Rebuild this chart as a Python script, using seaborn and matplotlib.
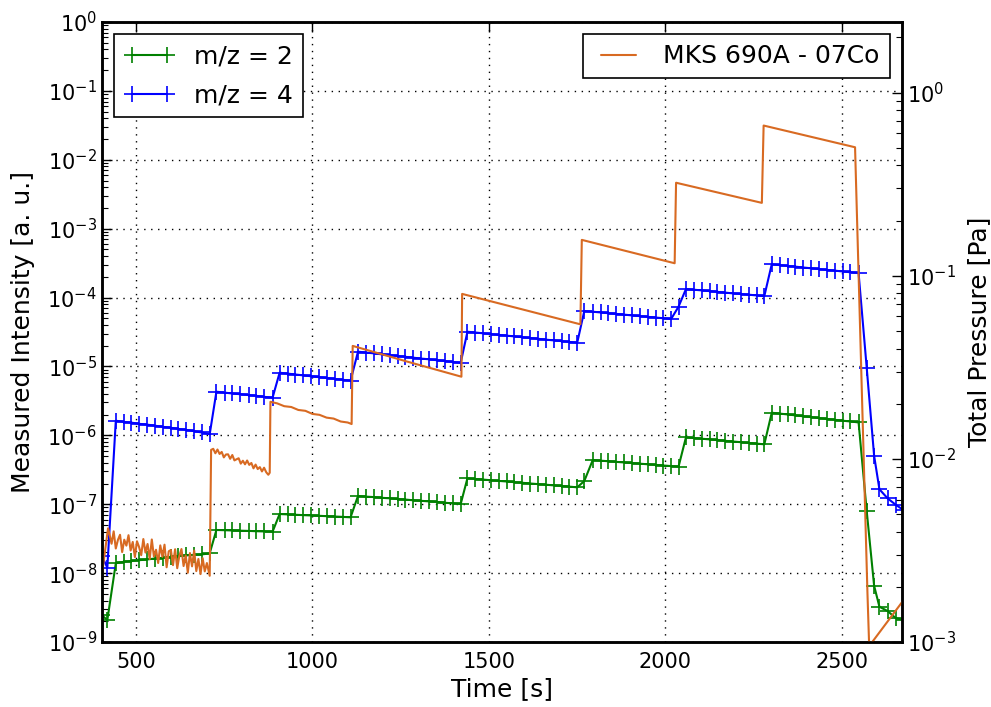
import matplotlib
matplotlib.use("Agg")
import matplotlib.pyplot as plt
import seaborn as sns
import pandas as pd
from matplotlib.ticker import LogLocator, NullFormatter
from matplotlib.lines import Line2D

# ---------------- data ----------------
t_ms = [403, 419, 443, 465, 487, 509, 532, 554, 576, 598, 620, 643, 665, 687, 709,
        728, 751, 773, 796, 819, 841, 864, 887,
        907, 930, 952, 974, 997, 1019, 1041, 1064, 1086, 1108,
        1129, 1151, 1174, 1196, 1219, 1241, 1263, 1286, 1308, 1331, 1353, 1375, 1398, 1420,
        1439, 1461, 1483, 1505, 1528, 1550, 1572, 1594, 1617, 1639, 1661, 1683, 1706, 1728, 1750,
        1770,
        1794, 1816, 1838, 1861, 1883, 1905, 1927, 1950, 1972, 1994, 2016,
        2037,
        2058, 2080, 2103, 2125, 2147, 2169, 2191, 2214, 2236, 2258, 2280,
        2301, 2323, 2346, 2368, 2390, 2413, 2435, 2457, 2480, 2502, 2524, 2547,
        2570, 2591, 2606, 2629, 2653, 2675]

mz4 = [1.8e-8, 1.2e-8,
       1.63e-6, 1.57e-6, 1.53e-6, 1.47e-6, 1.43e-6, 1.38e-6, 1.33e-6, 1.29e-6, 1.24e-6, 1.20e-6, 1.15e-6, 1.10e-6, 1.04e-6,
       4.30e-6, 4.17e-6, 4.05e-6, 3.95e-6, 3.85e-6, 3.74e-6, 3.62e-6, 3.51e-6,
       8.11e-6, 7.87e-6, 7.64e-6, 7.42e-6, 7.20e-6, 6.99e-6, 6.79e-6, 6.59e-6, 6.40e-6, 6.21e-6,
       1.64e-5, 1.59e-5, 1.55e-5, 1.50e-5, 1.46e-5, 1.42e-5, 1.38e-5, 1.34e-5, 1.30e-5, 1.27e-5, 1.23e-5, 1.20e-5, 1.16e-5, 1.13e-5,
       3.19e-5, 3.11e-5, 3.03e-5, 2.95e-5, 2.87e-5, 2.80e-5, 2.73e-5, 2.66e-5, 2.59e-5, 2.52e-5, 2.45e-5, 2.39e-5, 2.33e-5, 2.27e-5, 2.21e-5,
       6.38e-5,
       6.23e-5, 6.08e-5, 5.93e-5, 5.79e-5, 5.65e-5, 5.51e-5, 5.38e-5, 5.25e-5, 5.13e-5, 5.01e-5, 4.89e-5,
       7.37e-5,
       1.33e-4, 1.30e-4, 1.27e-4, 1.24e-4, 1.21e-4, 1.18e-4, 1.15e-4, 1.125e-4, 1.10e-4, 1.075e-4, 1.05e-4,
       3.04e-4, 2.96e-4, 2.88e-4, 2.81e-4, 2.73e-4, 2.66e-4, 2.59e-4, 2.52e-4, 2.46e-4, 2.39e-4, 2.33e-4, 2.27e-4,
       9.6e-6, 5.06e-7, 1.65e-7, 1.22e-7, 9.75e-8, 8.2e-8]

mz2 = [2.47e-9, 2.08e-9,
       1.39e-8, 1.46e-8, 1.50e-8, 1.54e-8, 1.58e-8, 1.63e-8, 1.67e-8, 1.72e-8, 1.76e-8, 1.81e-8, 1.84e-8, 1.87e-8, 1.94e-8,
       4.23e-8, 4.20e-8, 4.16e-8, 4.13e-8, 4.10e-8, 4.06e-8, 4.03e-8, 3.99e-8,
       7.21e-8, 7.12e-8, 7.03e-8, 6.95e-8, 6.87e-8, 6.79e-8, 6.71e-8, 6.63e-8, 6.55e-8, 6.46e-8,
       1.32e-7, 1.29e-7, 1.27e-7, 1.24e-7, 1.22e-7, 1.19e-7, 1.17e-7, 1.14e-7, 1.12e-7, 1.10e-7, 1.08e-7, 1.05e-7, 1.03e-7, 1.01e-7,
       2.38e-7, 2.33e-7, 2.28e-7, 2.23e-7, 2.18e-7, 2.14e-7, 2.09e-7, 2.05e-7, 2.00e-7, 1.96e-7, 1.92e-7, 1.88e-7, 1.84e-7, 1.80e-7, 1.76e-7,
       2.17e-7,
       4.38e-7, 4.29e-7, 4.21e-7, 4.12e-7, 4.04e-7, 3.96e-7, 3.88e-7, 3.80e-7, 3.73e-7, 3.65e-7, 3.58e-7,
       3.51e-7,
       9.36e-7, 9.14e-7, 8.93e-7, 8.73e-7, 8.53e-7, 8.33e-7, 8.14e-7, 7.95e-7, 7.76e-7, 7.58e-7, 7.41e-7,
       2.13e-6, 2.07e-6, 2.01e-6, 1.95e-6, 1.89e-6, 1.84e-6, 1.78e-6, 1.73e-6, 1.68e-6, 1.63e-6, 1.59e-6, 1.54e-6,
       7.98e-8, 6.56e-9, 3.25e-9, 2.82e-9, 2.21e-9, 2.1e-9]

t_p = [403, 421,
       425, 431, 437, 443, 449, 455, 461, 467, 473, 479, 485, 491, 497, 503, 509, 515, 521, 527,
       533, 539, 545, 551, 557, 563, 569, 575, 581, 587, 593, 599, 605, 611, 617, 623, 629, 635,
       641, 647, 653, 659, 665, 671, 677, 683, 689, 695, 701, 709,
       713, 719, 725, 731, 737, 743, 749, 755, 761, 767, 773, 779, 785, 791, 797, 803, 809, 815,
       821, 827, 833, 839, 845, 851, 857, 863, 869, 875, 879,
       881, 900, 920, 940, 960, 980, 1000, 1020, 1040, 1060, 1080, 1100, 1111,
       1114, 1268, 1422,
       1424, 1592, 1759,
       1763, 2026,
       2030, 2273,
       2278, 2537,
       2572, 2577, 2670]

p_tot = [2.28e-3, 4.18e-3,
         3.89e-3, 3.44e-3, 4.02e-3, 3.24e-3, 3.61e-3, 3.85e-3, 3.10e-3, 3.62e-3, 3.36e-3, 3.83e-3,
         3.16e-3, 3.52e-3, 2.91e-3, 3.55e-3, 3.30e-3, 2.98e-3, 3.65e-3, 3.08e-3, 3.43e-3, 2.84e-3,
         3.63e-3, 2.93e-3, 3.19e-3, 2.70e-3, 3.37e-3, 2.92e-3, 3.40e-3, 2.56e-3, 3.13e-3, 3.18e-3,
         2.63e-3, 3.21e-3, 2.53e-3, 2.96e-3, 3.22e-3, 2.60e-3, 2.97e-3, 2.39e-3, 3.06e-3, 2.59e-3,
         3.16e-3, 2.44e-3, 2.84e-3, 2.35e-3, 2.87e-3, 2.43e-3, 2.70e-3, 2.30e-3,
         11.2e-3, 11.35e-3, 10.73e-3, 11.25e-3, 10.64e-3, 10.91e-3, 10.19e-3, 10.57e-3, 10.59e-3, 10.01e-3,
         10.50e-3, 9.81e-3, 9.95e-3, 10.08e-3, 9.42e-3, 9.77e-3, 9.34e-3, 9.80e-3, 9.27e-3, 9.50e-3,
         8.88e-3, 9.31e-3, 8.80e-3, 9.02e-3, 8.54e-3, 8.95e-3, 8.46e-3, 8.19e-3, 8.40e-3,
         20.5e-3, 20.1e-3, 19.4e-3, 19.2e-3, 18.5e-3, 18.3e-3, 17.6e-3, 17.4e-3, 16.8e-3, 16.6e-3, 16.0e-3, 15.8e-3, 15.5e-3,
         41.4e-3, 34.0e-3, 28.1e-3,
         79.6e-3, 65.7e-3, 54.3e-3,
         0.157, 0.117,
         0.322, 0.250,
         0.661, 0.503,
         1.88e-3, 9.5e-4, 1.65e-3]

labels_ms = ["m/z = 2", "m/z = 4"]
label_p = "MKS 690A - 07Co"
xticks = [500, 1000, 1500, 2000, 2500]

# ---------------- style ----------------
sns.set_style("white")
plt.rcParams.update({
    "font.family": ["DejaVu Sans"],
    "text.color": "black",
    "axes.labelcolor": "black",
    "xtick.color": "black",
    "ytick.color": "black",
    "xtick.direction": "in",
    "ytick.direction": "in",
    "axes.edgecolor": "black",
    "axes.linewidth": 1.8,
    "mathtext.default": "regular",
})

GREEN = "#008000"
BLUE = "#0000ff"
ORANGE = "#d86a22"

fig = plt.figure(figsize=(9.91, 7.07), dpi=100)
ax = fig.add_axes([0.1026, 0.0919, 0.8076, 0.877])

df_ms = pd.DataFrame({"t": t_ms, "mz2": mz2, "mz4": mz4})
df_p = pd.DataFrame({"t": t_p, "p": p_tot})

common = dict(marker="+", markersize=11, markeredgewidth=1.2, linewidth=1.5,
              estimator=None, sort=False, legend=False)
sns.lineplot(data=df_ms, x="t", y="mz2", ax=ax, color=GREEN, markeredgecolor=GREEN, **common)
sns.lineplot(data=df_ms, x="t", y="mz4", ax=ax, color=BLUE, markeredgecolor=BLUE, **common)

ax.set_yscale("log")
ax.set_ylim(1e-9, 1e0)
ax.set_xlim(403, 2670)
ax.set_xticks(xticks)
ax.yaxis.set_major_locator(LogLocator(base=10, numticks=20))
ax.yaxis.set_minor_locator(LogLocator(base=10, subs=range(2, 10), numticks=20))
ax.yaxis.set_minor_formatter(NullFormatter())
ax.grid(True, which="major", linestyle=(0, (1, 4)), color="black", linewidth=1.0)
ax.tick_params(axis="both", which="major", labelsize=15, length=7, width=1, top=True, right=False)
ax.tick_params(axis="y", which="minor", length=4, width=0.8, right=False)
ax.tick_params(axis="x", pad=7)
ax.set_xlabel("Time [s]", fontsize=18)
ax.set_ylabel("Measured Intensity [a. u.]", fontsize=18, labelpad=9)

ax2 = ax.twinx()
sns.lineplot(data=df_p, x="t", y="p", ax=ax2, color=ORANGE, linewidth=1.5,
             estimator=None, sort=False, legend=False)
ax2.set_xlabel("")
ax2.xaxis.label.set_visible(False)
ax2.set_yscale("log")
ax2.set_ylim(1e-3, 2.43)
ax2.set_xlim(403, 2670)
ax2.yaxis.set_major_locator(LogLocator(base=10, numticks=20))
ax2.yaxis.set_minor_locator(LogLocator(base=10, subs=range(2, 10), numticks=20))
ax2.yaxis.set_minor_formatter(NullFormatter())
ax2.tick_params(axis="y", which="major", labelsize=15, length=7, width=1)
ax2.tick_params(axis="y", which="minor", length=4, width=0.8)
ax2.set_ylabel("Total Pressure [Pa]", fontsize=18, labelpad=8)
for a in (ax, ax2):
    for s in a.spines.values():
        s.set_linewidth(1.8)

h_ms = [Line2D([], [], color=GREEN, marker="+", markersize=11, markeredgewidth=1.2, linewidth=1.5),
        Line2D([], [], color=BLUE, marker="+", markersize=11, markeredgewidth=1.2, linewidth=1.5)]
h_p = [Line2D([], [], color=ORANGE, linewidth=1.5)]
leg1 = ax2.legend(h_ms, labels_ms, loc="upper left", fontsize=18, numpoints=2,
                  fancybox=False, edgecolor="black", framealpha=1, borderaxespad=0.5,
                  labelspacing=0.6)
leg1.get_frame().set_linewidth(1.2)
ax2.add_artist(leg1)
leg2 = ax2.legend(h_p, [label_p], loc="upper right", fontsize=18, numpoints=2,
                  fancybox=False, edgecolor="black", framealpha=1, borderaxespad=0.5)
leg2.get_frame().set_linewidth(1.2)

fig.savefig("out.png", dpi=100)
